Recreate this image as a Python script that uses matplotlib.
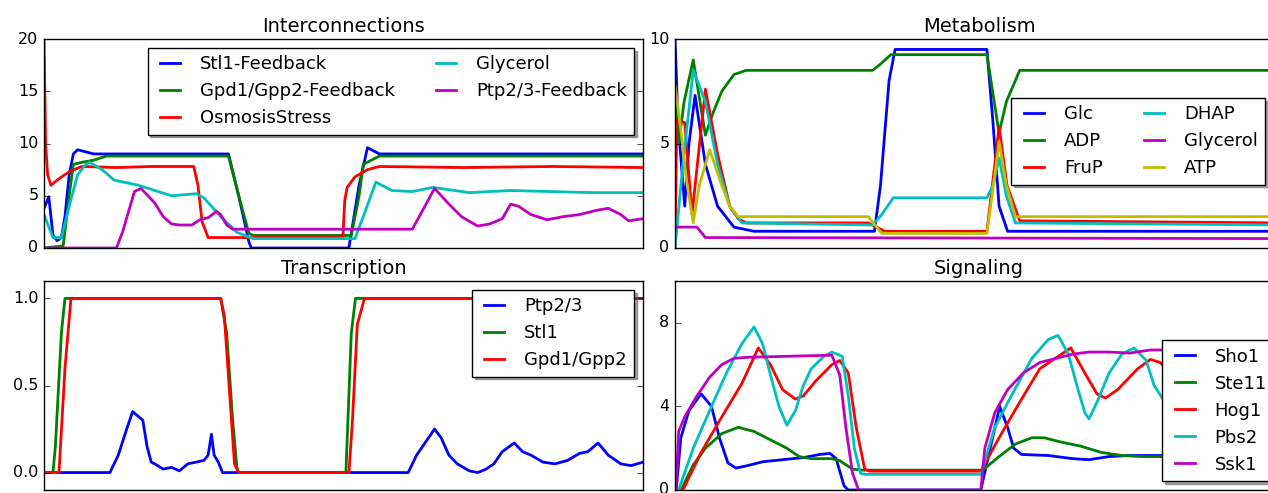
import matplotlib
matplotlib.use("Agg")
import matplotlib.pyplot as plt

# ---- Interconnections (time in % of run) ----
stl1_fb_t = [0, 0.8, 1.5, 2.2, 2.9, 3.5, 4.2, 4.9, 5.6, 6.3, 8.3, 30.8, 32.5, 34.2, 34.6, 50.9, 52.6, 54.0, 56.0, 100]
stl1_fb_v = [3.8, 4.9, 1.2, 0.7, 1.0, 3.0, 7.0, 9.0, 9.4, 9.3, 9.0, 9.0, 5.0, 0.6, 0.0, 0.0, 6.0, 9.6, 9.0, 9.0]
gpd_fb_t = [0, 3.2, 4.2, 4.9, 6.3, 8.3, 10.4, 30.8, 32.5, 34.2, 35.0, 51.3, 52.6, 53.3, 56.0, 100]
gpd_fb_v = [0, 0.2, 5.0, 8.0, 8.2, 8.4, 8.8, 8.8, 5.0, 1.4, 1.2, 1.2, 5.0, 8.0, 8.8, 8.8]
osmo_t = [0, 0.27, 0.6, 1.16, 2.2, 4.2, 6.3, 12, 18, 25.0, 25.7, 26.4, 27.4, 49.9, 50.2, 50.6, 51.9, 54.0, 56, 70, 85, 100]
osmo_v = [20, 10, 7.0, 6.0, 6.5, 7.3, 7.8, 7.7, 7.8, 7.8, 6.0, 2.5, 1.0, 1.0, 4.5, 5.8, 6.8, 7.5, 7.8, 7.7, 7.8, 7.7]
glyc_t = [0, 1.5, 2.9, 4.2, 5.6, 6.95, 7.6, 9.7, 11.7, 15.8, 18.5, 21.3, 25.4, 26.7, 29.5, 32.2, 34.9, 51.9, 53.3, 55.4,
          58.1, 61.5, 64.9, 71.0, 77.9, 84.7, 91.5, 100]
glyc_v = [3.2, 1.0, 1.0, 4.0, 7.0, 8.0, 8.2, 7.5, 6.5, 6.0, 5.5, 5.0, 5.2, 4.8, 3.0, 1.5, 0.9, 0.9, 3.0, 6.3,
          5.5, 5.4, 5.8, 5.3, 5.5, 5.4, 5.3, 5.3]
ptp_fb_t = [0, 12.1, 13.1, 15.1, 16.2, 18.5, 19.9, 21.3, 22.6, 24.7, 26.0, 27.4, 28.8, 29.5, 30.5, 31.5, 61.5, 65.2,
            67.6, 69.7, 72.4, 74.4, 76.5, 77.9, 79.2, 81.3, 84.0, 86.7, 89.4, 92.2, 94.2, 96.3, 97.6, 100]
ptp_fb_v = [0, 0, 1.5, 5.4, 5.7, 4.3, 3.0, 2.3, 2.2, 2.2, 2.7, 2.9, 3.5, 3.2, 2.2, 1.8, 1.8, 5.7,
            4.2, 3.0, 2.1, 2.3, 2.8, 4.2, 4.0, 3.2, 2.7, 3.0, 3.2, 3.6, 3.8, 3.2, 2.6, 2.8]

# ---- Metabolism ----
glc_t = [0, 0.5, 1.6, 2.3, 3.3, 5.0, 7.0, 9.7, 13, 32.8, 33.8, 35.2, 36.2, 51.3, 52.3, 53.3, 54.7, 100]
glc_v = [10, 6.0, 2.0, 5.0, 7.3, 4.0, 2.0, 1.0, 0.8, 0.8, 3.0, 8.0, 9.5, 9.5, 6.0, 2.0, 0.8, 0.8]
adp_t = [0, 0.6, 1.5, 3.0, 5.0, 6.3, 7.7, 9.7, 11.7, 32.5, 33.8, 35.5, 51.3, 52.5, 53.3, 54.5, 56.7, 100]
adp_v = [7.7, 5.0, 7.0, 9.0, 5.4, 6.5, 7.5, 8.3, 8.5, 8.5, 8.8, 9.25, 9.25, 7.0, 5.5, 7.0, 8.5, 8.5]
frup_t = [0, 0.3, 1.6, 2.8, 5.0, 7.0, 9.0, 10.4, 11.7, 31.8, 34.5, 51.3, 52.6, 53.3, 54.6, 56.7, 100]
frup_v = [0, 6.1, 6.0, 1.6, 7.6, 4.5, 2.0, 1.4, 1.2, 1.2, 0.8, 0.8, 4.0, 5.8, 3.0, 1.3, 1.2]
dhap_t = [0, 1.3, 3.0, 5.0, 7.0, 9.0, 11, 32.5, 34, 35.9, 51.3, 52.3, 53.3, 54.5, 56, 100]
dhap_v = [0, 4.0, 8.5, 7.0, 4.0, 2.0, 1.2, 1.1, 1.6, 2.4, 2.4, 3.0, 4.3, 2.5, 1.2, 1.1]
mglyc_t = [0, 3.6, 5.0, 100]
mglyc_v = [1.0, 1.0, 0.5, 0.45]
atp_t = [0, 0.9, 2.0, 3.0, 4.0, 5.7, 7.7, 9.0, 10.4, 31.8, 34, 51.3, 52.6, 53.3, 54.5, 56, 100]
atp_v = [7.8, 5.8, 3.0, 1.2, 3.0, 4.7, 3.0, 2.0, 1.5, 1.5, 0.7, 0.7, 3.5, 5.1, 3.0, 1.5, 1.5]

# ---- Transcription ----
stl1_t = [0, 1.5, 1.9, 2.9, 3.5, 29.5, 30.5, 31.5, 32.2, 32.5, 50.4, 51.3, 52.0, 100]
stl1_v = [0, 0, 0.15, 0.8, 1.0, 1.0, 0.8, 0.3, 0.03, 0, 0, 0.8, 1.0, 1.0]
gpd_t = [0, 2.5, 3.5, 4.5, 29.5, 30.1, 31.1, 31.8, 32.5, 50.9, 51.5, 52.3, 53.5, 100]
gpd_v = [0, 0, 0.6, 1.0, 1.0, 0.9, 0.4, 0.05, 0, 0, 0.3, 0.85, 1.0, 1.0]
ptp_t = [0, 11, 12.4, 13.8, 14.8, 15.5, 16.5, 17.2, 17.9, 18.5, 19.9, 21.3, 22.6, 24.0, 25.4, 26.7, 27.4, 27.95,
         28.4, 29.1, 29.8, 60.8, 62.2, 64.2, 65.2, 66.3, 67.6, 69.0, 71.0, 72.4, 73.8, 75.1, 76.5, 78.5, 79.9,
         81.3, 83.3, 85.3, 87.4, 89.4, 90.8, 92.5, 94.2, 96.3, 98.0, 100]
ptp_v = [0, 0, 0.1, 0.25, 0.35, 0.33, 0.3, 0.15, 0.06, 0.05, 0.02, 0.03, 0.01, 0.05, 0.06, 0.07, 0.1, 0.22,
         0.1, 0.06, 0.0, 0, 0.1, 0.2, 0.25, 0.2, 0.1, 0.05, 0.01, 0, 0.02, 0.05, 0.12, 0.17, 0.12,
         0.1, 0.06, 0.05, 0.07, 0.11, 0.12, 0.17, 0.1, 0.05, 0.04, 0.06]

# ---- Signaling ----
sho1_t = [0.2, 0.96, 2.3, 4.3, 6.0, 7.3, 8.7, 10.0, 11.7, 14.4, 17.7, 21.1, 23.8, 25.5, 26.5, 27.8, 28.5, 50.3,
          53.4, 54.7, 55.7, 57.0, 61.4, 65.4, 68.1, 71.4, 74.8, 80.2, 100]
sho1_v = [0, 2.5, 3.8, 4.6, 4.0, 2.5, 1.3, 1.05, 1.15, 1.35, 1.45, 1.55, 1.7, 1.75, 1.5, 0.2, 0, 0,
          4.0, 3.0, 2.0, 1.7, 1.65, 1.5, 1.45, 1.6, 1.65, 1.65, 1.6]
ste11_t = [1.0, 3.0, 5.0, 7.7, 10.4, 13.0, 15.7, 18.4, 20.4, 22.4, 25.8, 27.1, 29.2, 30.8, 50.6, 53.3, 56.0, 58.7,
           60.7, 63.4, 66.7, 70.1, 73.5, 76.8, 100]
ste11_v = [0, 1.2, 2.0, 2.7, 3.0, 2.8, 2.4, 2.0, 1.6, 1.5, 1.5, 1.4, 1.0, 0.95, 0.95, 1.6, 2.2, 2.5,
           2.5, 2.3, 2.1, 1.8, 1.65, 1.6, 1.6]
hog1_t = [1.3, 4.3, 7.7, 11.0, 13.7, 15.7, 17.7, 19.8, 21.1, 23.1, 25.8, 27.1, 28.5, 29.8, 31.2, 32.0, 50.3, 53.3,
          56.7, 60.0, 65.1, 67.4, 69.4, 70.8, 72.8, 76.1, 78.2, 79.8, 81.5, 84.9, 88.2, 91.6, 94.9, 97.6, 100]
hog1_v = [0, 1.8, 3.5, 5.1, 6.8, 6.0, 4.8, 4.35, 4.5, 5.2, 6.0, 6.2, 5.6, 3.0, 1.0, 0.9, 0.9, 2.5,
          4.2, 5.8, 6.8, 5.6, 4.6, 4.4, 4.8, 5.8, 6.25, 6.1, 5.6, 4.8, 4.6, 5.2, 5.8, 6.0, 6.0]
pbs2_t = [0.6, 3.0, 5.7, 8.3, 11.0, 13.0, 14.4, 15.7, 17.1, 18.4, 19.8, 21.1, 22.4, 24.5, 25.8, 27.5, 28.5, 29.5,
          30.5, 31.2, 50.3, 52.6, 55.3, 58.7, 61.4, 63.0, 64.7, 66.1, 67.4, 68.1, 69.4, 71.4, 73.5, 75.5, 77.5,
          78.8, 81.5, 83.5, 86.9, 90.2, 93.6, 96.3, 98.9, 100]
pbs2_v = [0, 2.0, 3.8, 5.5, 7.0, 7.8, 7.0, 5.5, 4.0, 3.1, 3.8, 5.0, 5.8, 6.4, 6.6, 6.4, 4.5, 2.0,
          0.8, 0.75, 0.75, 3.0, 4.5, 6.3, 7.2, 7.4, 6.5, 5.0, 3.7, 3.4, 4.2, 5.6, 6.5, 6.8, 6.2,
          5.0, 3.8, 3.5, 4.5, 6.0, 6.7, 6.2, 5.6, 5.4]
ssk1_t = [0.15, 0.6, 1.6, 3.6, 5.7, 7.7, 9.7, 12, 25.8, 27.1, 28.1, 29.2, 30.2, 50.3, 50.95, 52.6, 54.7, 57.3,
          60.0, 62.7, 65.4, 68.1, 71.4, 74.8, 78.2, 100]
ssk1_v = [0, 2.8, 3.5, 4.5, 5.4, 6.0, 6.3, 6.35, 6.45, 5.5, 3.0, 0.8, 0, 0, 2.0, 3.7, 4.8, 5.6,
          6.1, 6.3, 6.5, 6.6, 6.6, 6.55, 6.7, 6.7]

plt.style.use("classic")
plt.rcParams["figure.facecolor"] = "white"
plt.rcParams["savefig.facecolor"] = "white"

fig = plt.figure(figsize=(12.68, 4.93), dpi=100)
W, H = 1268.0, 493.0


def make_ax(x0, y0, x1, y1):
    return fig.add_axes([x0 / W, 1 - y1 / H, (x1 - x0) / W, (y1 - y0) / H])


ax1 = make_ax(44, 39, 643, 248)
ax2 = make_ax(675, 39, 1283, 248)
ax3 = make_ax(44, 281, 643, 490)
ax4 = make_ax(675, 281, 1283, 490)

lw = 2

ax1.plot(stl1_fb_t, stl1_fb_v, "b", lw=lw, label="Stl1-Feedback")
ax1.plot(gpd_fb_t, gpd_fb_v, "g", lw=lw, label="Gpd1/Gpp2-Feedback")
ax1.plot(osmo_t, osmo_v, "r", lw=lw, label="OsmosisStress")
ax1.plot(glyc_t, glyc_v, "c", lw=lw, label="Glycerol")
ax1.plot(ptp_fb_t, ptp_fb_v, "m", lw=lw, label="Ptp2/3-Feedback")
ax1.set_ylim(0, 20)
ax1.set_yticks([0, 5, 10, 15, 20])
ax1.set_title("Interconnections", fontsize=14)
ax1.legend(loc="upper right", ncol=2, shadow=True, fontsize=13, handlelength=1.7)

ax2.plot(glc_t, glc_v, "b", lw=lw, label="Glc")
ax2.plot(adp_t, adp_v, "g", lw=lw, label="ADP")
ax2.plot(frup_t, frup_v, "r", lw=lw, label="FruP")
ax2.plot(dhap_t, dhap_v, "c", lw=lw, label="DHAP")
ax2.plot(mglyc_t, mglyc_v, "m", lw=lw, label="Glycerol")
ax2.plot(atp_t, atp_v, "y", lw=lw, label="ATP")
ax2.set_ylim(0, 10)
ax2.set_yticks([0, 5, 10])
ax2.set_title("Metabolism", fontsize=14)
ax2.legend(loc="center right", bbox_to_anchor=(0.985, 0.51), ncol=2, shadow=True,
           fontsize=13, handlelength=1.7)

ax3.plot(ptp_t, ptp_v, "b", lw=lw, label="Ptp2/3")
ax3.plot(stl1_t, stl1_v, "g", lw=lw, label="Stl1")
ax3.plot(gpd_t, gpd_v, "r", lw=lw, label="Gpd1/Gpp2")
ax3.set_ylim(-0.1, 1.1)
ax3.set_yticks([0.0, 0.5, 1.0])
ax3.set_title("Transcription", fontsize=14)
ax3.legend(loc="upper right", shadow=True, fontsize=13, handlelength=1.7)

ax4.plot(sho1_t, sho1_v, "b", lw=lw, label="Sho1")
ax4.plot(ste11_t, ste11_v, "g", lw=lw, label="Ste11")
ax4.plot(hog1_t, hog1_v, "r", lw=lw, label="Hog1")
ax4.plot(pbs2_t, pbs2_v, "c", lw=lw, label="Pbs2")
ax4.plot(ssk1_t, ssk1_v, "m", lw=lw, label="Ssk1")
ax4.set_ylim(0, 10)
ax4.set_yticks([0, 4, 8])
ax4.set_title("Signaling", fontsize=14)
ax4.legend(loc="lower right", shadow=True, fontsize=13, handlelength=1.7)

for ax in (ax1, ax2, ax3, ax4):
    ax.set_xlim(0, 100)
    ax.set_xticks([])
    ax.tick_params(axis="y", labelsize=11.5)

fig.savefig("out.png", dpi=100)
